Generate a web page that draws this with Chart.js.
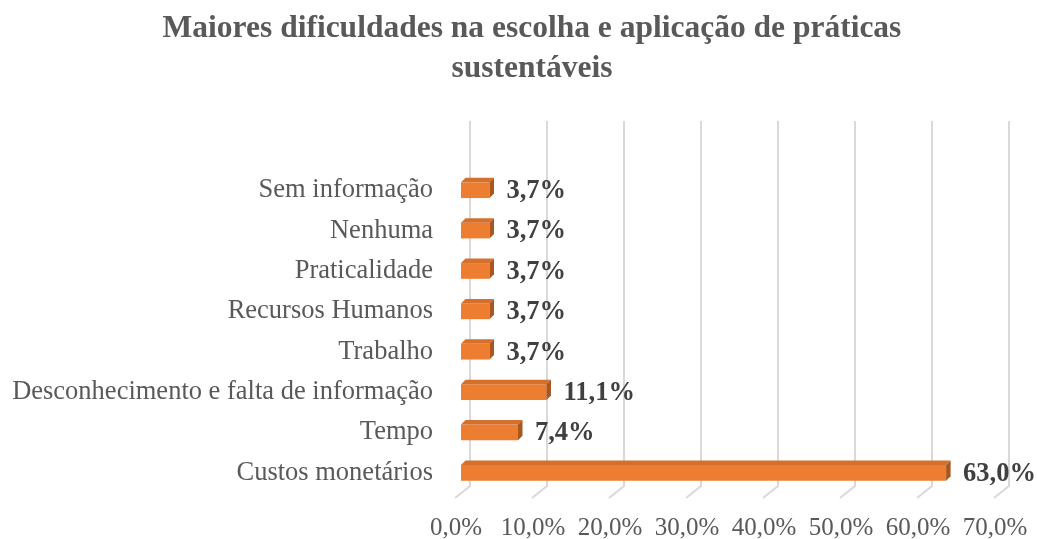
<!DOCTYPE html>
<html>
<head>
<meta charset="utf-8">
<script src="https://cdn.jsdelivr.net/npm/chart.js@4"></script>
<style>
	html, body { margin: 0; padding: 0; background: #fff; }
	#wrap { width: 1037px; height: 539px; }
</style>
</head>
<body>
<div id="wrap"><canvas id="bar-chart-dificuldades"></canvas></div>
<script>
"use strict";

const categories = [
	'Sem informação',
	'Nenhuma',
	'Praticalidade',
	'Recursos Humanos',
	'Trabalho',
	'Desconhecimento e falta de informação',
	'Tempo',
	'Custos monetários'
];
const percentages = [3.7, 3.7, 3.7, 3.7, 3.7, 11.1, 7.4, 63.0];
const tickValues = [0, 10, 20, 30, 40, 50, 60, 70];
const chartTitle = ['Maiores dificuldades na escolha e aplicação de práticas', 'sustentáveis'];

const fmt = (v) => v.toFixed(1).replace('.', ',') + '%';

// title drawn by hand so it can sit centred on the whole picture
const titlePlugin = {
	id: 'titlePlugin',
	afterDraw(chart) {
		const ctx = chart.ctx;
		ctx.save();
		ctx.fillStyle = '#595959';
		ctx.font = 'bold 31.5px "Liberation Serif"';
		ctx.textAlign = 'center';
		ctx.textBaseline = 'alphabetic';
		ctx.fillText(chartTitle[0], 532, 37);
		ctx.fillText(chartTitle[1], 532, 77);
		ctx.restore();
	}
};

// back wall gridlines with a little floor diagonal (3D look)
const wallGrid = {
	id: 'wallGrid',
	beforeDatasetsDraw(chart) {
		const ctx = chart.ctx;
		const x = chart.scales.x;
		const area = chart.chartArea;
		ctx.save();
		ctx.strokeStyle = '#d9d9d9';
		ctx.lineWidth = 2;
		for (const v of tickValues) {
			const px = x.getPixelForValue(v) + 9;
			ctx.beginPath();
			ctx.moveTo(px, area.top - 49);
			ctx.lineTo(px, area.bottom - 7);
			ctx.lineTo(px - 15, area.bottom + 5);
			ctx.stroke();
		}
		ctx.restore();
	}
};

// top and side faces of the bars + value labels
const bar3d = {
	id: 'bar3d',
	afterDatasetsDraw(chart) {
		const ctx = chart.ctx;
		const d = 4.5;
		const meta = chart.getDatasetMeta(0);
		ctx.save();
		meta.data.forEach((bar, i) => {
			const top = bar.y - bar.height / 2;
			const bottom = bar.y + bar.height / 2;
			ctx.fillStyle = '#d5702c';
			ctx.beginPath();
			ctx.moveTo(bar.base, top);
			ctx.lineTo(bar.base + d, top - d);
			ctx.lineTo(bar.x + d, top - d);
			ctx.lineTo(bar.x, top);
			ctx.closePath();
			ctx.fill();
			ctx.fillStyle = '#a9561f';
			ctx.beginPath();
			ctx.moveTo(bar.x, top);
			ctx.lineTo(bar.x + d, top - d);
			ctx.lineTo(bar.x + d, bottom - d);
			ctx.lineTo(bar.x, bottom);
			ctx.closePath();
			ctx.fill();

			ctx.fillStyle = '#404040';
			ctx.font = 'bold 26.5px "Liberation Serif"';
			ctx.textAlign = 'left';
			ctx.textBaseline = 'middle';
			ctx.fillText(fmt(percentages[i]), bar.x + 17, bar.y + 1);
		});
		ctx.restore();
	}
};

function displayBarChart() {
	const ctx = document.querySelector('#bar-chart-dificuldades').getContext('2d');
	new Chart(ctx, {
		type: 'bar',
		data: {
			labels: categories,
			datasets: [{
				data: percentages,
				backgroundColor: '#ed7d31',
				borderWidth: 0,
				barPercentage: 0.39,
				categoryPercentage: 1
			}]
		},
		options: {
			indexAxis: 'y',
			responsive: true,
			maintainAspectRatio: false,
			animation: false,
			layout: { padding: { top: 170, right: 37, bottom: 0, left: 0 } },
			plugins: {
				legend: { display: false },
				tooltip: { enabled: false },
				title: { display: false }
			},
			scales: {
				x: {
					min: 0,
					max: 70,
					grid: { display: false, drawTicks: false },
					border: { display: false },
					afterFit: (scale) => {
						scale.height = 46;
						scale.paddingLeft = 0;
						scale.paddingRight = 0;
					},
					ticks: {
						stepSize: 10,
						padding: 20,
						labelOffset: -5,
						maxRotation: 0,
						color: '#595959',
						font: { family: 'Liberation Serif', size: 25 },
						callback: (v) => fmt(v)
					}
				},
				y: {
					grid: { display: false, drawTicks: false },
					border: { display: false },
					afterFit: (scale) => { scale.width = 461; },
					ticks: {
						padding: 28,
						color: '#595959',
						font: { family: 'Liberation Serif', size: 26.5 }
					}
				}
			}
		},
		plugins: [wallGrid, bar3d, titlePlugin]
	});
}

displayBarChart();
</script>
</body>
</html>
